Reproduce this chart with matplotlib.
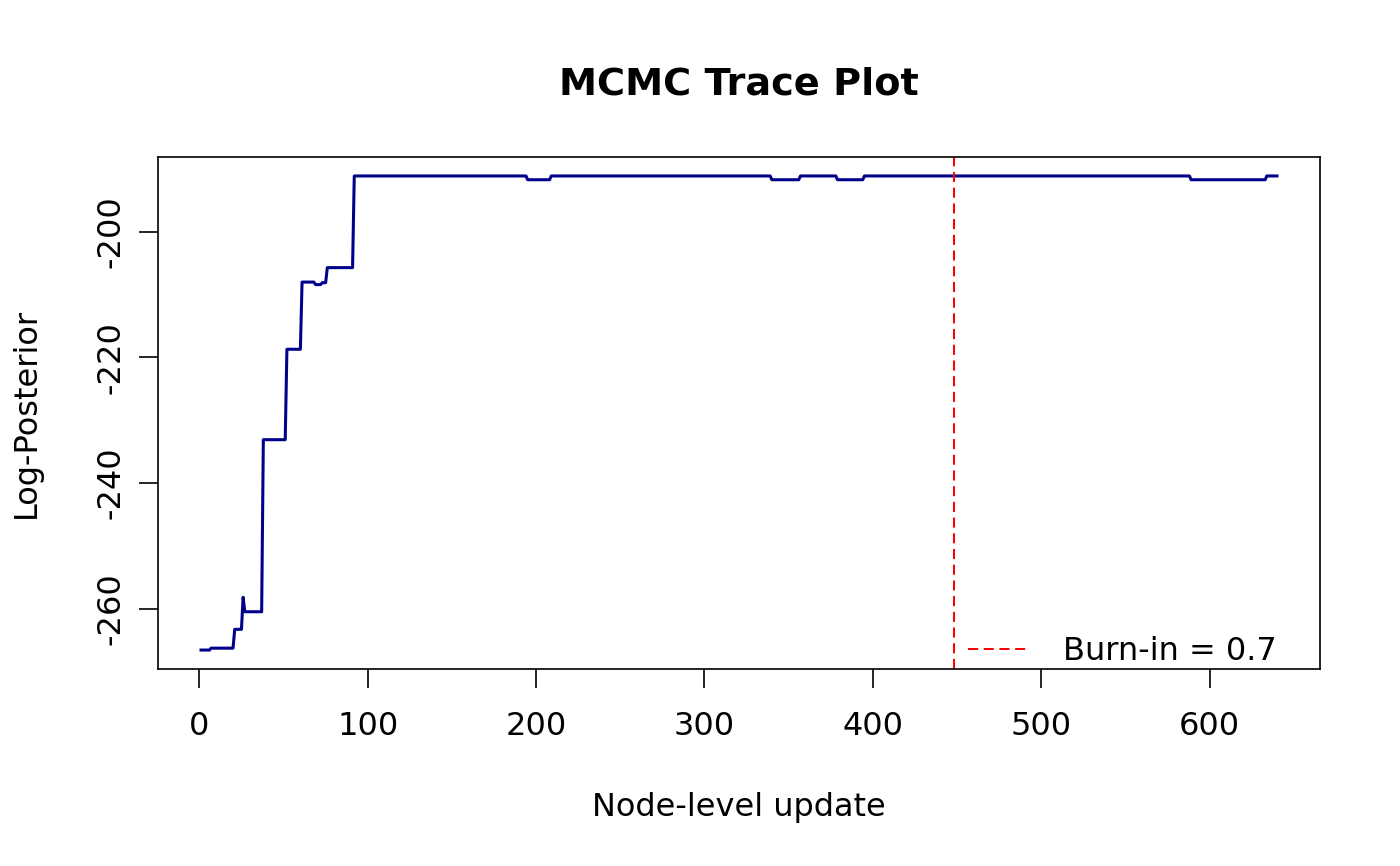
import numpy as np
import matplotlib
matplotlib.use("Agg")
import matplotlib.pyplot as plt

# step trace: iteration where each level starts, and its value
seg_start = [1, 7, 21, 26, 27, 38, 52, 61, 69, 73, 76, 92,
             195, 209, 340, 357, 379, 395, 589, 634]
seg_value = [-266.6, -266.3, -263.3, -258.2, -260.5, -233.1, -218.7, -208.0,
             -208.4, -208.1, -205.7, -191.1,
             -191.7, -191.1, -191.7, -191.1, -191.7, -191.1, -191.7, -191.1]
n_iter = 640
burn_in = 0.7

xticks = [0, 100, 200, 300, 400, 500, 600]
yticks = [-260, -240, -220, -200]

lengths = np.diff(seg_start + [n_iter + 1])
trace = np.repeat(seg_value, lengths)
iters = np.arange(1, n_iter + 1)

fig = plt.figure(figsize=(14, 8.66), dpi=100)
ax = fig.add_axes([158 / 1400, 1 - 669 / 866, (1320 - 158) / 1400, (669 - 157) / 866])

ax.plot(iters, trace, color="#00008B", lw=2.2)
cut = burn_in * n_iter
ax.axvline(cut, color="red", lw=1.45, ls=(0, (5, 2.8)), label="Burn-in = %g" % burn_in)

pad_x = 0.04 * (n_iter - 1)
ax.set_xlim(1 - pad_x, n_iter + pad_x)
rng = trace.max() - trace.min()
ax.set_ylim(trace.min() - 0.04 * rng, trace.max() + 0.04 * rng)

ax.set_xticks(xticks)
ax.set_yticks(yticks)
ax.set_yticklabels([str(t) for t in yticks], rotation=90, va="center")
ax.tick_params(direction="out", length=14, width=1.2, labelsize=23, pad=16)
ax.tick_params(axis="y", pad=9)
for s in ax.spines.values():
    s.set_linewidth(1.2)

ax.set_title("MCMC Trace Plot", fontsize=27.5, fontweight="bold", pad=45)
ax.set_xlabel("Node-level update", fontsize=23, labelpad=36)
ax.set_ylabel("Log-Posterior", fontsize=23, labelpad=38)

ax.legend(loc="lower right", bbox_to_anchor=(1 - 0.0258, -0.0215), frameon=False,
          fontsize=23, handlelength=1.95, handletextpad=1.05, borderaxespad=0)

fig.savefig("out.png", dpi=100)
